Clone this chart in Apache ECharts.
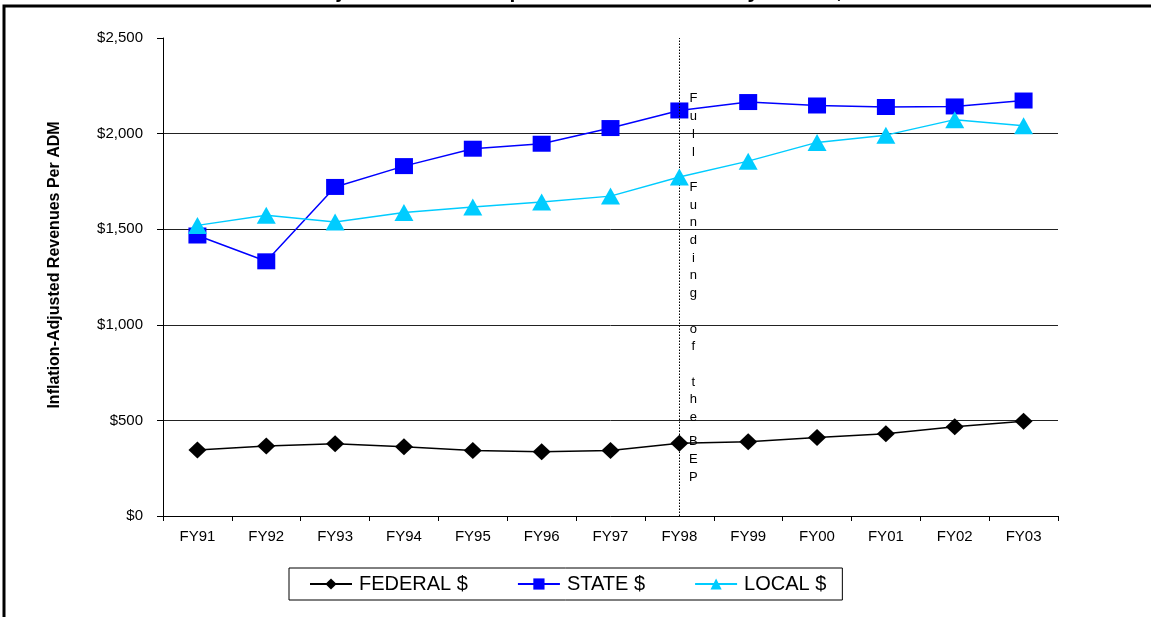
<!DOCTYPE html>
<html>
<head>
<meta charset="utf-8">
<script src="https://cdn.jsdelivr.net/npm/echarts@6/dist/echarts.min.js"></script>
<style>
html,body{margin:0;padding:0;background:#fff;}
#chart{width:1151px;height:617px;}
</style>
</head>
<body>
<div id="chart"></div>
<script>
const categories = ['FY91','FY92','FY93','FY94','FY95','FY96','FY97','FY98','FY99','FY00','FY01','FY02','FY03'];
const federal = [345, 366, 378, 362, 343, 336, 343, 381, 388, 411, 430, 467, 496];
const state = [1467, 1332, 1721, 1830, 1921, 1947, 2029, 2121, 2165, 2147, 2139, 2142, 2173];
const local = [1520, 1573, 1538, 1587, 1616, 1642, 1673, 1773, 1856, 1954, 1992, 2073, 2041];
const seriesNames = ['FEDERAL $', 'STATE $', 'LOCAL $'];
const markerCategory = 'FY98';
const annotationTop = 'Full Funding of the';
const annotationBottom = 'BEP';
const titleText = 'Inflation-Adjusted Revenues per ADM from Necessary Source, FY91 to FY03';
const yName = 'Inflation-Adjusted Revenues Per ADM';

const chart = echarts.init(document.getElementById('chart'), null, {renderer: 'canvas'});
const FONT = '"Liberation Sans", Arial, sans-serif';

function fmt(v) {
  return '$' + v.toString().replace(/\B(?=(\d{3})+(?!\d))/g, ',');
}
function vertical(s) {
  return s.split('').join('\n');
}

const option = {
  animation: false,
  backgroundColor: '#fff',
  textStyle: {fontFamily: FONT},
  grid: {left: 163, right: 93, top: 38, bottom: 101, containLabel: false},
  legend: {
    data: seriesNames,
    left: 289, top: 568,
    orient: 'horizontal',
    borderColor: '#000', borderWidth: 1,
    padding: [6, 16, 6, 20],
    itemGap: 49,
    itemWidth: 42, itemHeight: 14,
    textStyle: {fontFamily: FONT, fontSize: 20, color: '#000', padding: [0, 0, 0, 2]}
  },
  xAxis: {
    type: 'category',
    data: categories,
    boundaryGap: true,
    axisLine: {lineStyle: {color: '#000', width: 1}},
    axisTick: {show: true, length: 5, lineStyle: {color: '#000'}},
    axisLabel: {color: '#000', fontSize: 15, fontFamily: FONT, margin: 13},
    splitLine: {show: false}
  },
  yAxis: {
    type: 'value',
    min: 0, max: 2500, interval: 500,
    name: yName,
    nameLocation: 'middle',
    nameRotate: 90,
    nameGap: 100,
    nameTextStyle: {fontFamily: FONT, fontSize: 16, fontWeight: 'bold', color: '#000', padding: [0, 0, 0, 24]},
    axisLine: {show: true, lineStyle: {color: '#000', width: 1}},
    axisTick: {show: true, length: 6, lineStyle: {color: '#000'}},
    axisLabel: {color: '#000', fontSize: 15, fontFamily: FONT, margin: 20, formatter: fmt},
    splitLine: {show: true, showMinLine: false, showMaxLine: false, lineStyle: {color: '#222', width: 1}}
  },
  series: [
    {
      name: seriesNames[0], type: 'line', data: federal,
      symbol: 'diamond', symbolSize: [18, 17],
      itemStyle: {color: '#000'}, lineStyle: {color: '#000', width: 1.5},
      markLine: {
        silent: true, symbol: 'none',
        label: {show: false},
        lineStyle: {color: '#000', type: [1.5, 1.5], width: 1},
        data: [{xAxis: markerCategory}]
      },
      z: 3
    },
    {
      name: seriesNames[1], type: 'line', data: state,
      symbol: 'rect', symbolSize: [18, 16],
      itemStyle: {color: '#0000FF'}, lineStyle: {color: '#0000FF', width: 1.5},
      z: 4
    },
    {
      name: seriesNames[2], type: 'line', data: local,
      symbol: 'triangle', symbolSize: [19, 17],
      itemStyle: {color: '#00CCFF'}, lineStyle: {color: '#00CCFF', width: 1.5},
      z: 5
    }
  ]
};
chart.setOption(option);

const px = chart.convertToPixel({xAxisIndex: 0}, markerCategory);
chart.setOption({
  graphic: [
    {
      type: 'rect', silent: true, z: 100,
      shape: {x: 4, y: 6, width: 1200, height: 700},
      style: {fill: 'none', stroke: '#000', lineWidth: 3}
    },
    {
      type: 'text', silent: true, z: 100,
      x: 600, y: 2.5,
      style: {
        text: titleText, fontFamily: FONT, fontSize: 21, fontWeight: 'bold',
        fill: '#000', align: 'center', verticalAlign: 'bottom'
      }
    },
    {
      type: 'text', silent: true, z: 100,
      x: px + 14, y: 90,
      style: {
        text: vertical(annotationTop), fontFamily: FONT, fontSize: 13,
        lineHeight: 17.7, fill: '#000', align: 'center', verticalAlign: 'top'
      }
    },
    {
      type: 'text', silent: true, z: 100,
      x: px + 14, y: 433,
      style: {
        text: vertical(annotationBottom), fontFamily: FONT, fontSize: 13,
        lineHeight: 17.7, fill: '#000', align: 'center', verticalAlign: 'top'
      }
    }
  ]
});
</script>
</body>
</html>
